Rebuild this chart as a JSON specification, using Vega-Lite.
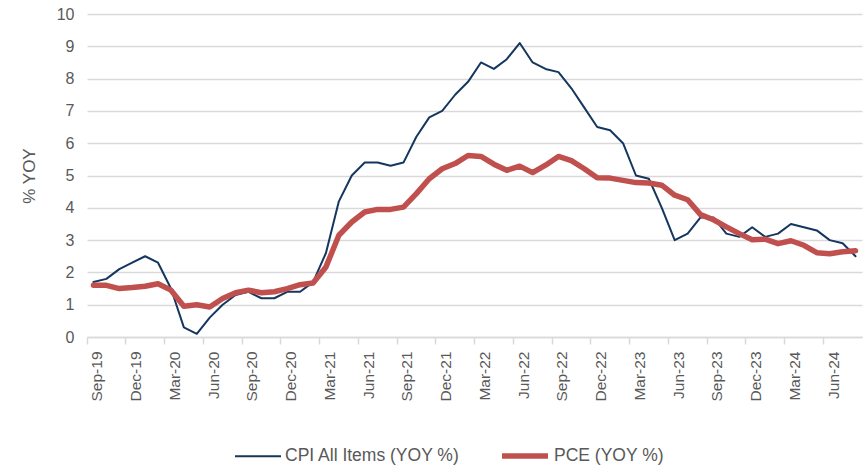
{
  "$schema": "https://vega.github.io/schema/vega-lite/v6.json",
  "autosize": {"type": "none"},
  "width": 775,
  "height": 323,
  "padding": {"left": 87, "top": 14, "right": 3, "bottom": 136},
  "background": "white",
  "config": {
    "view": {"stroke": null},
    "font": "Liberation Sans"
  },
  "datasets": {
    "rows": [
      {"month":"Sep-19","series":"CPI All Items (YOY %)","value":1.7},
      {"month":"Oct-19","series":"CPI All Items (YOY %)","value":1.8},
      {"month":"Nov-19","series":"CPI All Items (YOY %)","value":2.1},
      {"month":"Dec-19","series":"CPI All Items (YOY %)","value":2.3},
      {"month":"Jan-20","series":"CPI All Items (YOY %)","value":2.5},
      {"month":"Feb-20","series":"CPI All Items (YOY %)","value":2.3},
      {"month":"Mar-20","series":"CPI All Items (YOY %)","value":1.5},
      {"month":"Apr-20","series":"CPI All Items (YOY %)","value":0.3},
      {"month":"May-20","series":"CPI All Items (YOY %)","value":0.1},
      {"month":"Jun-20","series":"CPI All Items (YOY %)","value":0.6},
      {"month":"Jul-20","series":"CPI All Items (YOY %)","value":1.0},
      {"month":"Aug-20","series":"CPI All Items (YOY %)","value":1.3},
      {"month":"Sep-20","series":"CPI All Items (YOY %)","value":1.4},
      {"month":"Oct-20","series":"CPI All Items (YOY %)","value":1.2},
      {"month":"Nov-20","series":"CPI All Items (YOY %)","value":1.2},
      {"month":"Dec-20","series":"CPI All Items (YOY %)","value":1.4},
      {"month":"Jan-21","series":"CPI All Items (YOY %)","value":1.4},
      {"month":"Feb-21","series":"CPI All Items (YOY %)","value":1.7},
      {"month":"Mar-21","series":"CPI All Items (YOY %)","value":2.6},
      {"month":"Apr-21","series":"CPI All Items (YOY %)","value":4.2},
      {"month":"May-21","series":"CPI All Items (YOY %)","value":5.0},
      {"month":"Jun-21","series":"CPI All Items (YOY %)","value":5.4},
      {"month":"Jul-21","series":"CPI All Items (YOY %)","value":5.4},
      {"month":"Aug-21","series":"CPI All Items (YOY %)","value":5.3},
      {"month":"Sep-21","series":"CPI All Items (YOY %)","value":5.4},
      {"month":"Oct-21","series":"CPI All Items (YOY %)","value":6.2},
      {"month":"Nov-21","series":"CPI All Items (YOY %)","value":6.8},
      {"month":"Dec-21","series":"CPI All Items (YOY %)","value":7.0},
      {"month":"Jan-22","series":"CPI All Items (YOY %)","value":7.5},
      {"month":"Feb-22","series":"CPI All Items (YOY %)","value":7.9},
      {"month":"Mar-22","series":"CPI All Items (YOY %)","value":8.5},
      {"month":"Apr-22","series":"CPI All Items (YOY %)","value":8.3},
      {"month":"May-22","series":"CPI All Items (YOY %)","value":8.6},
      {"month":"Jun-22","series":"CPI All Items (YOY %)","value":9.1},
      {"month":"Jul-22","series":"CPI All Items (YOY %)","value":8.5},
      {"month":"Aug-22","series":"CPI All Items (YOY %)","value":8.3},
      {"month":"Sep-22","series":"CPI All Items (YOY %)","value":8.2},
      {"month":"Oct-22","series":"CPI All Items (YOY %)","value":7.7},
      {"month":"Nov-22","series":"CPI All Items (YOY %)","value":7.1},
      {"month":"Dec-22","series":"CPI All Items (YOY %)","value":6.5},
      {"month":"Jan-23","series":"CPI All Items (YOY %)","value":6.4},
      {"month":"Feb-23","series":"CPI All Items (YOY %)","value":6.0},
      {"month":"Mar-23","series":"CPI All Items (YOY %)","value":5.0},
      {"month":"Apr-23","series":"CPI All Items (YOY %)","value":4.9},
      {"month":"May-23","series":"CPI All Items (YOY %)","value":4.0},
      {"month":"Jun-23","series":"CPI All Items (YOY %)","value":3.0},
      {"month":"Jul-23","series":"CPI All Items (YOY %)","value":3.2},
      {"month":"Aug-23","series":"CPI All Items (YOY %)","value":3.7},
      {"month":"Sep-23","series":"CPI All Items (YOY %)","value":3.7},
      {"month":"Oct-23","series":"CPI All Items (YOY %)","value":3.2},
      {"month":"Nov-23","series":"CPI All Items (YOY %)","value":3.1},
      {"month":"Dec-23","series":"CPI All Items (YOY %)","value":3.4},
      {"month":"Jan-24","series":"CPI All Items (YOY %)","value":3.1},
      {"month":"Feb-24","series":"CPI All Items (YOY %)","value":3.2},
      {"month":"Mar-24","series":"CPI All Items (YOY %)","value":3.5},
      {"month":"Apr-24","series":"CPI All Items (YOY %)","value":3.4},
      {"month":"May-24","series":"CPI All Items (YOY %)","value":3.3},
      {"month":"Jun-24","series":"CPI All Items (YOY %)","value":3.0},
      {"month":"Jul-24","series":"CPI All Items (YOY %)","value":2.9},
      {"month":"Aug-24","series":"CPI All Items (YOY %)","value":2.5},
      {"month":"Sep-19","series":"PCE (YOY %)","value":1.6},
      {"month":"Oct-19","series":"PCE (YOY %)","value":1.6},
      {"month":"Nov-19","series":"PCE (YOY %)","value":1.5},
      {"month":"Dec-19","series":"PCE (YOY %)","value":1.53},
      {"month":"Jan-20","series":"PCE (YOY %)","value":1.57},
      {"month":"Feb-20","series":"PCE (YOY %)","value":1.65},
      {"month":"Mar-20","series":"PCE (YOY %)","value":1.45},
      {"month":"Apr-20","series":"PCE (YOY %)","value":0.95},
      {"month":"May-20","series":"PCE (YOY %)","value":1.0},
      {"month":"Jun-20","series":"PCE (YOY %)","value":0.93},
      {"month":"Jul-20","series":"PCE (YOY %)","value":1.19},
      {"month":"Aug-20","series":"PCE (YOY %)","value":1.37},
      {"month":"Sep-20","series":"PCE (YOY %)","value":1.45},
      {"month":"Oct-20","series":"PCE (YOY %)","value":1.37},
      {"month":"Nov-20","series":"PCE (YOY %)","value":1.4},
      {"month":"Dec-20","series":"PCE (YOY %)","value":1.5},
      {"month":"Jan-21","series":"PCE (YOY %)","value":1.62},
      {"month":"Feb-21","series":"PCE (YOY %)","value":1.67},
      {"month":"Mar-21","series":"PCE (YOY %)","value":2.17},
      {"month":"Apr-21","series":"PCE (YOY %)","value":3.15},
      {"month":"May-21","series":"PCE (YOY %)","value":3.56},
      {"month":"Jun-21","series":"PCE (YOY %)","value":3.87},
      {"month":"Jul-21","series":"PCE (YOY %)","value":3.95},
      {"month":"Aug-21","series":"PCE (YOY %)","value":3.95},
      {"month":"Sep-21","series":"PCE (YOY %)","value":4.02},
      {"month":"Oct-21","series":"PCE (YOY %)","value":4.44},
      {"month":"Nov-21","series":"PCE (YOY %)","value":4.9},
      {"month":"Dec-21","series":"PCE (YOY %)","value":5.21},
      {"month":"Jan-22","series":"PCE (YOY %)","value":5.37},
      {"month":"Feb-22","series":"PCE (YOY %)","value":5.62},
      {"month":"Mar-22","series":"PCE (YOY %)","value":5.59},
      {"month":"Apr-22","series":"PCE (YOY %)","value":5.35},
      {"month":"May-22","series":"PCE (YOY %)","value":5.16},
      {"month":"Jun-22","series":"PCE (YOY %)","value":5.29},
      {"month":"Jul-22","series":"PCE (YOY %)","value":5.09},
      {"month":"Aug-22","series":"PCE (YOY %)","value":5.32},
      {"month":"Sep-22","series":"PCE (YOY %)","value":5.59},
      {"month":"Oct-22","series":"PCE (YOY %)","value":5.46},
      {"month":"Nov-22","series":"PCE (YOY %)","value":5.21},
      {"month":"Dec-22","series":"PCE (YOY %)","value":4.93},
      {"month":"Jan-23","series":"PCE (YOY %)","value":4.92},
      {"month":"Feb-23","series":"PCE (YOY %)","value":4.85},
      {"month":"Mar-23","series":"PCE (YOY %)","value":4.78},
      {"month":"Apr-23","series":"PCE (YOY %)","value":4.77},
      {"month":"May-23","series":"PCE (YOY %)","value":4.7},
      {"month":"Jun-23","series":"PCE (YOY %)","value":4.39},
      {"month":"Jul-23","series":"PCE (YOY %)","value":4.25},
      {"month":"Aug-23","series":"PCE (YOY %)","value":3.79},
      {"month":"Sep-23","series":"PCE (YOY %)","value":3.63},
      {"month":"Oct-23","series":"PCE (YOY %)","value":3.41},
      {"month":"Nov-23","series":"PCE (YOY %)","value":3.2},
      {"month":"Dec-23","series":"PCE (YOY %)","value":3.01},
      {"month":"Jan-24","series":"PCE (YOY %)","value":3.03},
      {"month":"Feb-24","series":"PCE (YOY %)","value":2.89},
      {"month":"Mar-24","series":"PCE (YOY %)","value":2.98},
      {"month":"Apr-24","series":"PCE (YOY %)","value":2.84},
      {"month":"May-24","series":"PCE (YOY %)","value":2.61},
      {"month":"Jun-24","series":"PCE (YOY %)","value":2.58},
      {"month":"Jul-24","series":"PCE (YOY %)","value":2.64},
      {"month":"Aug-24","series":"PCE (YOY %)","value":2.67}
    ]
  },
  "data": {"name": "rows"},
  "mark": {"type": "line", "strokeJoin": "round", "strokeCap": "round"},
  "encoding": {
    "x": {
      "field": "month",
      "type": "ordinal",
      "sort": null,
      "scale": {"type": "band", "paddingInner": 0, "paddingOuter": 0},
      "axis": {
        "title": null,
        "values": ["Sep-19","Dec-19","Mar-20","Jun-20","Sep-20","Dec-20","Mar-21","Jun-21","Sep-21","Dec-21","Mar-22","Jun-22","Sep-22","Dec-22","Mar-23","Jun-23","Sep-23","Dec-23","Mar-24","Jun-24"],
        "bandPosition": 0,
        "labelOffset": 4,
        "labelAngle": -90,
        "labelAlign": "right",
        "labelBaseline": "middle",
        "labelFontSize": 15.5,
        "labelColor": "#595959",
        "labelPadding": 7,
        "tickSize": 7,
        "tickColor": "#d9d9d9",
        "tickWidth": 1.5,
        "domainColor": "#d9d9d9",
        "domainWidth": 1.5,
        "grid": false
      }
    },
    "y": {
      "field": "value",
      "type": "quantitative",
      "scale": {"domain": [0, 10], "nice": false},
      "axis": {
        "title": "% YOY",
        "titleFontSize": 17,
        "titleFontWeight": "normal",
        "titleColor": "#595959",
        "titlePadding": 18,
        "values": [0,1,2,3,4,5,6,7,8,9,10],
        "labelFontSize": 16,
        "labelColor": "#595959",
        "labelPadding": 13,
        "ticks": false,
        "domain": false,
        "grid": true,
        "gridColor": "#d9d9d9",
        "gridWidth": 1.5
      }
    },
    "color": {
      "field": "series",
      "type": "nominal",
      "scale": {"domain": ["CPI All Items (YOY %)", "PCE (YOY %)"], "range": ["#14365f", "#c0504d"]},
      "legend": {
        "title": null,
        "orient": "none",
        "direction": "horizontal",
        "legendX": 147,
        "legendY": 416,
        "symbolType": "stroke",
        "symbolSize": 2116,
        "labelFontSize": 17.5,
        "labelLimit": 400,
        "labelColor": "#595959",
        "labelOffset": 3,
        "columnPadding": 30
      }
    },
    "strokeWidth": {
      "field": "series",
      "type": "nominal",
      "scale": {"domain": ["CPI All Items (YOY %)", "PCE (YOY %)"], "range": [2, 5.5]},
      "legend": {
        "title": null,
        "orient": "none",
        "direction": "horizontal",
        "legendX": 147,
        "legendY": 416,
        "symbolType": "stroke",
        "symbolSize": 2116,
        "labelFontSize": 17.5,
        "labelLimit": 400,
        "labelColor": "#595959",
        "labelOffset": 3,
        "columnPadding": 30
      }
    }
  }
}
